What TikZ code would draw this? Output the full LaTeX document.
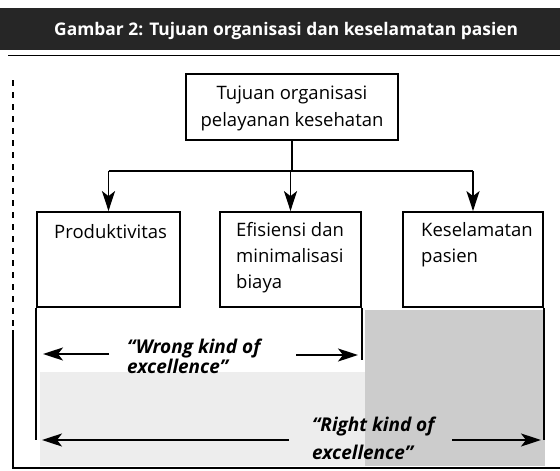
\documentclass[tikz,border=0pt]{standalone}
\usepackage{fontspec}
\setmainfont{Open Sans}
\usetikzlibrary{arrows.meta}
\begin{document}
\begin{tikzpicture}[x=1pt,y=-1pt,
  box/.style={draw,line width=1.8pt,inner sep=0pt},
  con/.style={line width=1.8pt},
  arr/.style={line width=1.8pt,-{Stealth[length=20pt,width=13pt,inset=5pt]}},
  lbl/.style={font=\fontsize{18.5}{26}\selectfont,inner sep=0pt,anchor=west,align=left},
  ital/.style={inner sep=0pt,anchor=west,align=left},
  ttl/.style={font=\fontsize{17.4}{20}\selectfont\bfseries,text=white,inner sep=0pt,anchor=west}
]
\useasboundingbox (0,0) rectangle (560,471);
\fill[white] (0,0) rectangle (560,471);
% scan shading
\fill[black!7] (40,372) rectangle (365,466);
\fill[black!20] (365,310) rectangle (545,466);
% banner
\fill[black!85] (0,8) rectangle (560,50);
\draw[line width=1pt] (8,55) -- (560,55);
\node[ttl] (title) at (54,31) {Gambar 2: Tujuan organisasi dan keselamatan pasien};
% outer frame
\draw[line width=1.5pt,dash pattern=on 6pt off 6pt] (13,80) -- (13,330);
\draw[line width=1.5pt] (13,330) -- (13,468) -- (560,468);
% boxes
\node[box,fill=white,minimum width=212pt,minimum height=66pt] (top) at (292,107) {};
\node[lbl,anchor=center,align=center,font=\fontsize{18.5}{27}\selectfont] (toptxt) at (292,108.5) {Tujuan organisasi\\pelayanan kesehatan};
\node[box,fill=white,minimum width=143pt,minimum height=95pt] (prod) at (108.5,259.5) {};
\node[box,fill=white,minimum width=141pt,minimum height=95pt] (efis) at (290.5,259.5) {};
\node[box,fill=white,minimum width=140pt,minimum height=95pt] (kes) at (473,259.5) {};
\node[lbl] (prodtxt) at (54,232) {Produktivitas};
\node[lbl] (efistxt) at (236,258) {Efisiensi dan\\minimalisasi\\biaya};
\node[lbl] (kestxt) at (421,245) {Keselamatan\\pasien};
% connectors
\coordinate (hl) at (0,171);
\draw[con] (top.south) -- (top.south |- hl);
\draw[con] (prod.north |- hl) -- (kes.north |- hl);
\draw[arr] (prod.north |- hl) -- (prod.north);
\draw[arr] (efis.north |- hl) -- (efis.north);
\draw[arr] (kes.north |- hl) -- (kes.north);
% brackets
\coordinate (rb) at (0,440);
\coordinate (wb) at (0,360);
\draw[con] (prod.south west) -- (prod.south west |- rb);
\draw[con] (efis.south east) -- (efis.south east |- wb);
\draw[con] (kes.south east) -- (kes.south east |- rb);
% wrong kind
\coordinate (w1) at (109,354);
\coordinate (w1t) at (43,354);
\coordinate (w2) at (296,355);
\coordinate (w2t) at (358,355);
\draw[arr] (w1) -- (w1t);
\draw[arr] (w2) -- (w2t);
\node[ital,font=\fontsize{19}{18}\selectfont\bfseries\itshape] (wrong) at (127,356) {“Wrong kind of\\excellence”};
% right kind
\coordinate (r1) at (289,440);
\coordinate (r1t) at (42,440);
\coordinate (r2) at (452,440);
\coordinate (r2t) at (541,440);
\draw[arr] (r1) -- (r1t);
\draw[arr] (r2) -- (r2t);
\node[ital,font=\fontsize{19}{28}\selectfont\bfseries\itshape] (right) at (312,438) {“Right kind of\\excellence”};
\end{tikzpicture}
\end{document}
